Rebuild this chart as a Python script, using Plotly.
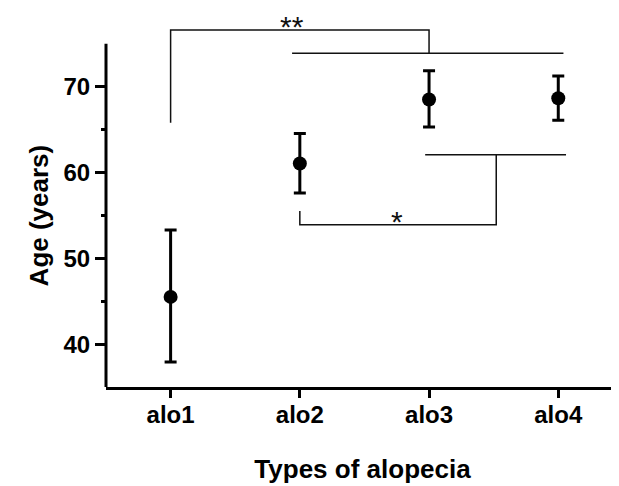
import plotly.graph_objects as go

# ---- data ----
categories = ["alo1", "alo2", "alo3", "alo4"]
mean_age = [45.5, 61.05, 68.5, 68.65]
upper_age = [53.3, 64.55, 71.85, 71.25]
lower_age = [37.9, 57.6, 65.3, 66.1]

y_ticks = [40, 50, 60, 70]
y_minor = [45, 55, 65]

# significance brackets (category index, age)
sig_double_path = [(0, 65.8), (0, 76.6), (2, 76.6), (2, 73.9)]
sig_double_bar = [(0.94, 73.9), (3.04, 73.9)]
sig_double_label = (0.94, 77.0, "**")
sig_single_path = [(1, 55.5), (1, 53.9), (2.52, 53.9), (2.52, 62.06)]
sig_single_bar = [(1.97, 62.06), (3.06, 62.06)]
sig_single_label = (1.75, 54.3, "*")

err_plus = [u - m for u, m in zip(upper_age, mean_age)]
err_minus = [m - l for m, l in zip(mean_age, lower_age)]

FONT = "Liberation Sans, Arial, sans-serif"

fig = go.Figure()
fig.add_trace(go.Scatter(
    x=categories, y=mean_age, mode="markers",
    marker=dict(size=14, color="black"),
    error_y=dict(type="data", symmetric=False, array=err_plus, arrayminus=err_minus,
                 thickness=3, width=6, color="black"),
    showlegend=False,
))

def path_of(pts):
    return "M " + " L ".join(f"{x},{y}" for x, y in pts)

line_style = dict(color="#111111", width=1.5)
for pts in (sig_double_path, sig_single_path):
    fig.add_shape(type="path", path=path_of(pts), xref="x", yref="y", line=line_style)
for (x0, y0), (x1, y1) in (sig_double_bar, sig_single_bar):
    fig.add_shape(type="line", x0=x0, y0=y0, x1=x1, y1=y1, xref="x", yref="y", line=line_style)

# visible y-axis line (stops at 75)
fig.add_shape(type="line", xref="paper", yref="y", x0=0, x1=0, y0=35, y1=75,
              line=dict(color="black", width=3))

for x, y, t in (sig_double_label, sig_single_label):
    fig.add_annotation(x=x, y=y, text=t, showarrow=False, xref="x", yref="y",
                       font=dict(family=FONT, size=30, color="#111111"))

fig.add_annotation(text="Age (years)", xref="paper", yref="y", x=0, y=55,
                   xshift=-84, textangle=-90, showarrow=False,
                   font=dict(family=FONT, size=26, color="black", weight="bold"))

fig.update_xaxes(
    type="category", range=[-0.5, 3.47],
    showline=True, linewidth=3, linecolor="black",
    ticks="outside", ticklen=8, tickwidth=3, tickcolor="black",
    ticklabelstandoff=-4,
    tickfont=dict(family=FONT, size=24, color="black", weight="bold"),
    showgrid=False, zeroline=False,
    title=dict(text="Types of alopecia", standoff=34,
               font=dict(family=FONT, size=26, color="black", weight="bold")),
)
fig.update_yaxes(
    range=[35, 79.17], tickmode="array", tickvals=y_ticks,
    showline=False, ticks="outside", ticklen=10, tickwidth=3, tickcolor="black",
    minor=dict(tickmode="array", tickvals=y_minor, ticks="outside", ticklen=4,
               tickwidth=3, tickcolor="black", showgrid=False),
    tickfont=dict(family=FONT, size=24, color="black", weight="bold"),
    showgrid=False, zeroline=False,
)
fig.update_layout(
    width=611, height=478,
    margin=dict(l=98, r=0, t=0, b=99),
    plot_bgcolor="white", paper_bgcolor="white",
)
fig.write_html("out.html")
